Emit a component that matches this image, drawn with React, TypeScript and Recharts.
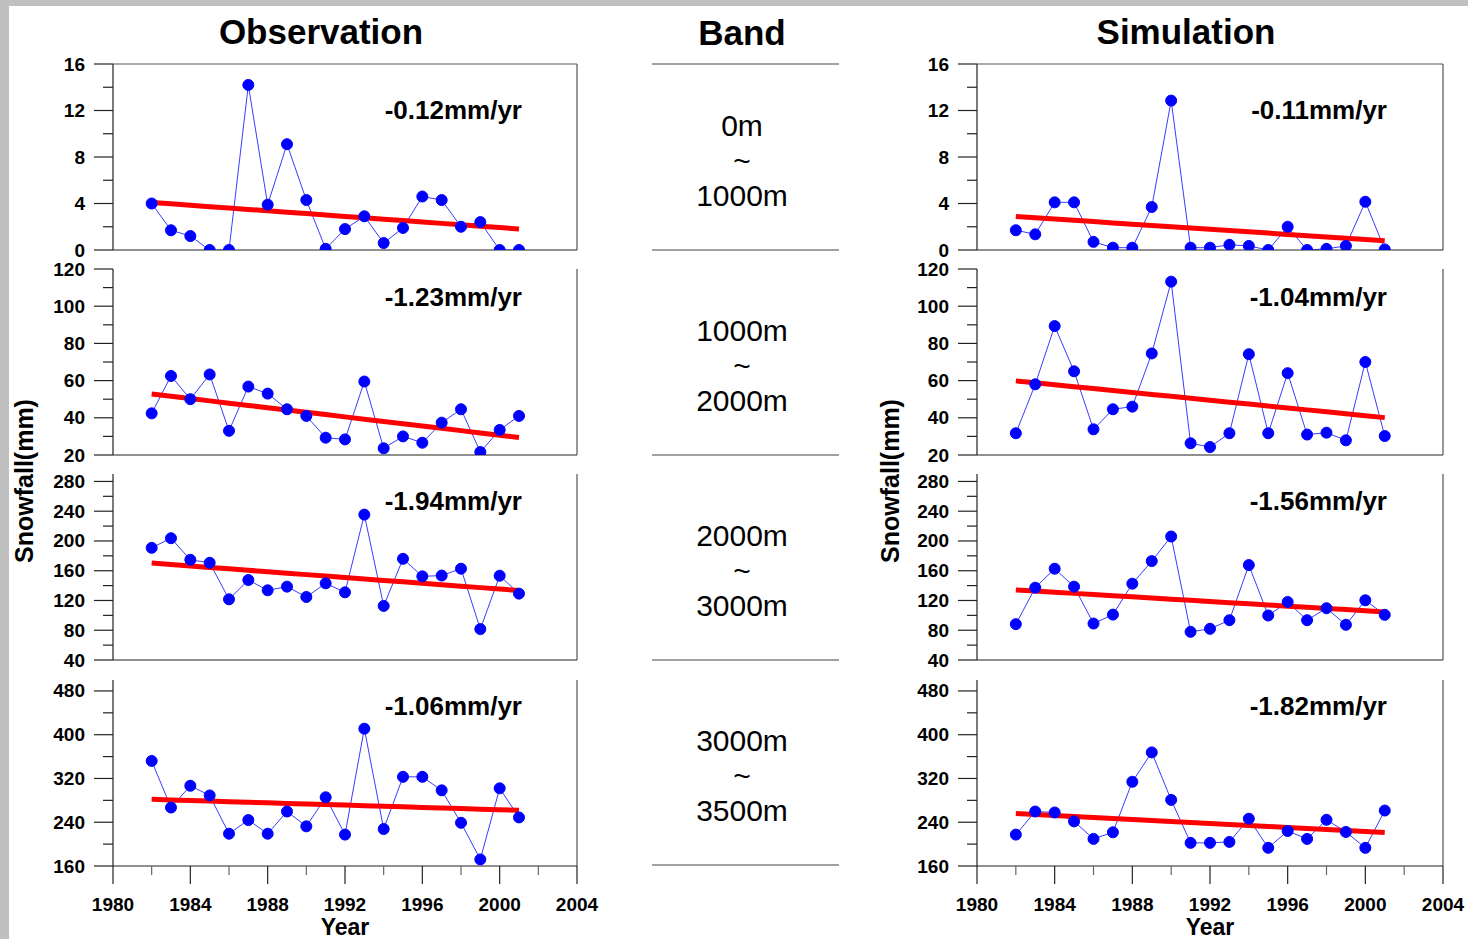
import React from 'react'
import { LineChart, Line, XAxis, YAxis, ReferenceLine } from 'recharts'

const FONT = '"Liberation Sans", Arial, Helvetica, sans-serif'

const years = [
  1982, 1983, 1984, 1985, 1986, 1987, 1988, 1989, 1990, 1991,
  1992, 1993, 1994, 1995, 1996, 1997, 1998, 1999, 2000, 2001,
]

// observed annual snowfall (mm) per elevation band
const obsBand1 = [4.0, 1.7, 1.2, 0, 0, 14.2, 3.9, 9.1, 4.3, 0.1, 1.8, 2.9, 0.6, 1.9, 4.6, 4.3, 2.0, 2.4, 0, 0]
const obsBand2 = [42.4, 62.5, 50, 63.3, 33, 56.8, 53, 44.6, 41, 29.3, 28.4, 59.5, 23.6, 30, 26.6, 37.4, 44.6, 21.6, 33.5, 41]
const obsBand3 = [190.8, 203.7, 174.7, 170.7, 121.6, 147.5, 133.7, 138.6, 124.7, 143, 131, 235.4, 112.7, 176, 152.4, 153.5, 162.7, 81.5, 153.3, 129.2]
const obsBand4 = [352, 266.9, 306.7, 289, 219, 244, 219, 259.6, 232.5, 285.6, 217.4, 411, 227.6, 323, 323, 298.3, 239, 172, 302, 248.8]

// simulated annual snowfall (mm) per elevation band
const simBand1 = [1.7, 1.35, 4.1, 4.1, 0.7, 0.2, 0.2, 3.7, 12.85, 0.2, 0.2, 0.45, 0.35, 0, 2.0, 0, 0.1, 0.35, 4.15, 0.05]
const simBand2 = [31.7, 58, 89.3, 65, 33.8, 44.6, 46, 74.6, 113.2, 26.3, 24.3, 31.7, 74.2, 31.7, 64, 31, 32, 27.9, 70, 30.2]
const simBand3 = [88.2, 137.2, 162.7, 138.6, 89, 101, 142.6, 172.9, 206, 77.9, 81.9, 93.5, 167.6, 99.8, 118, 93.5, 109.6, 87.3, 120.3, 100.7]
const simBand4 = [217.4, 259.6, 257.8, 241.5, 209.5, 221.6, 314, 367.7, 280.8, 202.3, 202.3, 204, 246.4, 193.2, 224, 209.5, 244.5, 222.2, 193.2, 261.4]

// linear trend (mm/yr)
const obsSlopes = [-0.12, -1.23, -1.94, -1.06]
const simSlopes = [-0.11, -1.04, -1.56, -1.82]

const bandLabels = [
  ['0m', '1000m'],
  ['1000m', '2000m'],
  ['2000m', '3000m'],
  ['3000m', '3500m'],
]

// y axis ranges and tick values
const yDomains = [[0, 16], [20, 120], [40, 290], [160, 500]]
const yMajorTicks = [
  [0, 4, 8, 12, 16],
  [20, 40, 60, 80, 100, 120],
  [40, 80, 120, 160, 200, 240, 280],
  [160, 240, 320, 400, 480],
]
const yMinorTicks = [
  [2, 6, 10, 14],
  [30, 50, 70, 90, 110],
  [60, 100, 140, 180, 220, 260],
  [200, 280, 360, 440],
]
const xTicks = [1980, 1982, 1984, 1986, 1988, 1990, 1992, 1994, 1996, 1998, 2000, 2002, 2004]
const xLabelTicks = [1980, 1984, 1988, 1992, 1996, 2000, 2004]

// layout
const PLOT_H = 186
const rowTops = [64, 269, 474, 680]
const labelYs = [110, 297, 501, 706]
const bandTextYs = [160, 365, 570, 775]
const columns = [
  { left: 113, width: 464, title: 'Observation', series: [obsBand1, obsBand2, obsBand3, obsBand4], slopes: obsSlopes, labelRight: 522, ylabelX: 24 },
  { left: 977, width: 466, title: 'Simulation', series: [simBand1, simBand2, simBand3, simBand4], slopes: simSlopes, labelRight: 1387, ylabelX: 890 },
]

const AXIS = '#222'
const FRAME = '#555'

function YTick(props: any) {
  const { x, y, payload, majors } = props
  const major = majors.includes(payload.value)
  return (
    <g>
      <line x1={x - (major ? 19 : 10)} x2={x} y1={y} y2={y} stroke={AXIS} strokeWidth={1.2} />
      {major && (
        <text x={x - 28} y={y} textAnchor="end" dominantBaseline="central" fontFamily={FONT} fontWeight="bold" fontSize={19} fill="#000">
          {payload.value}
        </text>
      )}
    </g>
  )
}

function XTick(props: any) {
  const { x, y, payload } = props
  const major = xLabelTicks.includes(payload.value)
  return (
    <g>
      <line x1={x} x2={x} y1={y} y2={y + (major ? 18 : 9)} stroke={major ? AXIS : '#666'} strokeWidth={1.2} />
      {major && (
        <text x={x} y={y + 38} textAnchor="middle" dominantBaseline="central" fontFamily={FONT} fontWeight="bold" fontSize={19} fill="#000">
          {payload.value}
        </text>
      )}
    </g>
  )
}

function Panel({ values, slope, row, left, width }: { values: number[]; slope: number; row: number; left: number; width: number }) {
  const mean = values.reduce((s, v) => s + v, 0) / values.length
  const midYear = (years[0] + years[years.length - 1]) / 2
  const data = years.map((yr, i) => ({
    year: yr,
    value: values[i],
    trend: mean + slope * (yr - midYear),
  }))
  const isBottom = row === 3
  // room under the plot so the lowest y label is not clipped
  const xAxisH = isBottom ? 60 : 14
  const padTop = 12
  const yAxisW = 60
  const padRight = 40
  const [ymin, ymax] = yDomains[row]
  const yTicks = [...yMajorTicks[row], ...yMinorTicks[row]].sort((a, b) => a - b)

  return (
    <div style={{ position: 'absolute', left: left - yAxisW, top: rowTops[row] - padTop }}>
      <LineChart
        width={yAxisW + width + padRight}
        height={padTop + PLOT_H + xAxisH}
        data={data}
        margin={{ top: padTop, right: padRight, bottom: 0, left: 0 }}
      >
        <XAxis
          dataKey="year"
          type="number"
          domain={[1980, 2004]}
          ticks={xTicks}
          interval={0}
          height={xAxisH}
          axisLine={{ stroke: AXIS, strokeWidth: 1.2 }}
          tickLine={false}
          tickSize={0}
          tickMargin={0}
          tick={isBottom ? (p: any) => <XTick {...p} /> : false}
        />
        <YAxis
          type="number"
          domain={[ymin, ymax]}
          allowDataOverflow
          ticks={yTicks}
          interval={0}
          width={yAxisW}
          axisLine={{ stroke: AXIS, strokeWidth: 1.2 }}
          tickLine={false}
          tickSize={0}
          tickMargin={0}
          tick={(p: any) => <YTick {...p} majors={yMajorTicks[row]} />}
        />
        <ReferenceLine x={2004} stroke={FRAME} strokeWidth={1.2} />
        {row === 0 && <ReferenceLine y={ymax} stroke={FRAME} strokeWidth={1.2} />}
        <Line
          type="linear"
          dataKey="value"
          stroke="#3b3bff"
          strokeWidth={1}
          dot={{ r: 5.5, fill: '#0000ff', stroke: '#0000ff', strokeWidth: 1 }}
          activeDot={false}
          isAnimationActive={false}
        />
        <Line
          type="linear"
          dataKey="trend"
          stroke="#ff0000"
          strokeWidth={5}
          dot={false}
          activeDot={false}
          isAnimationActive={false}
        />
      </LineChart>
    </div>
  )
}

export default function App() {
  return (
    <div style={{ position: 'absolute', left: 0, top: 0, width: 1468, height: 939, background: '#c0c0c0', overflow: 'hidden' }}>
      <div style={{ position: 'absolute', left: 9, top: 6, right: 0, bottom: 0, background: '#fff' }} />

      <svg width={1468} height={939} style={{ position: 'absolute', left: 0, top: 0 }} fontFamily={FONT}>
        {columns.map((col) => (
          <g key={col.title}>
            <text x={col.left + col.width / 2 - 24} y={31} textAnchor="middle" dominantBaseline="central" fontWeight="bold" fontSize={35}>
              {col.title}
            </text>
            <text transform={`translate(${col.ylabelX},481) rotate(-90)`} textAnchor="middle" dominantBaseline="central" fontWeight="bold" fontSize={25}>
              Snowfall(mm)
            </text>
            <text x={col.left + col.width / 2} y={927} textAnchor="middle" dominantBaseline="central" fontWeight="bold" fontSize={23}>
              Year
            </text>
            {col.slopes.map((s, r) => (
              <text key={r} x={col.labelRight} y={labelYs[r]} textAnchor="end" dominantBaseline="central" fontWeight="bold" fontSize={26}>
                {`${s.toFixed(2)}mm/yr`}
              </text>
            ))}
          </g>
        ))}

        <text x={742} y={32} textAnchor="middle" dominantBaseline="central" fontWeight="bold" fontSize={35}>
          Band
        </text>
        {[64, 250, 455, 660, 865].map((y) => (
          <line key={y} x1={652} x2={839} y1={y} y2={y} stroke="#444" strokeWidth={1.2} />
        ))}
        {bandLabels.map(([lo, hi], r) => (
          <g key={r} fontSize={30}>
            <text x={742} y={bandTextYs[r] - 35} textAnchor="middle" dominantBaseline="central">{lo}</text>
            <text x={742} y={bandTextYs[r]} textAnchor="middle" dominantBaseline="central">~</text>
            <text x={742} y={bandTextYs[r] + 35} textAnchor="middle" dominantBaseline="central">{hi}</text>
          </g>
        ))}
      </svg>

      {columns.map((col) =>
        col.series.map((vals, r) => (
          <Panel key={`${col.title}-${r}`} values={vals} slope={col.slopes[r]} row={r} left={col.left} width={col.width} />
        )),
      )}
    </div>
  )
}
